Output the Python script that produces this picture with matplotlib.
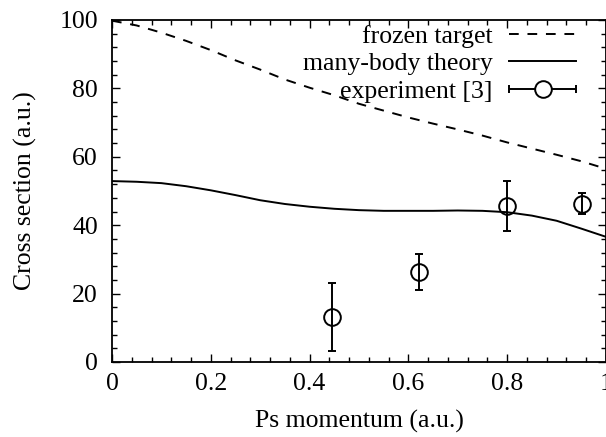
import matplotlib
matplotlib.use("Agg")
import matplotlib.pyplot as plt
import numpy as np
from matplotlib.legend_handler import HandlerErrorbar
from matplotlib.ticker import MultipleLocator

# frozen-target curve (dashed)
frozen_k = [0.0, 0.05, 0.1, 0.15, 0.2, 0.25, 0.3, 0.35, 0.4, 0.45, 0.5,
            0.55, 0.6, 0.65, 0.7, 0.75, 0.8, 0.85, 0.9, 0.95, 1.0]
frozen_sigma = [99.8, 98.4, 96.3, 93.9, 91.2, 88.2, 85.5, 82.6, 80.2, 78.0, 75.5,
                73.5, 71.5, 69.7, 68.0, 66.2, 64.2, 62.4, 60.6, 58.7, 56.5]

# many-body theory curve (solid)
mbt_k = [0.0, 0.05, 0.1, 0.15, 0.2, 0.25, 0.3, 0.35, 0.4, 0.45, 0.5,
         0.55, 0.6, 0.65, 0.7, 0.75, 0.8, 0.85, 0.9, 0.95, 1.0]
mbt_sigma = [52.9, 52.7, 52.3, 51.4, 50.2, 48.8, 47.3, 46.2, 45.4, 44.8, 44.4,
             44.2, 44.2, 44.2, 44.3, 44.2, 43.8, 42.8, 41.3, 39.0, 36.6]

# experiment [3]
exp_k = [0.446, 0.621, 0.80, 0.952]
exp_sigma = [13.2, 26.2, 45.7, 46.2]
exp_lo = [3.3, 21.0, 38.3, 43.2]
exp_hi = [23.1, 31.5, 52.9, 49.5]

plt.rcParams["font.family"] = ["Liberation Serif", "DejaVu Serif"]
plt.rcParams["font.size"] = 18.5

fig = plt.figure(figsize=(6.06, 4.37), dpi=100, facecolor="white")
ax = fig.add_axes([112 / 606, 75 / 437, 494 / 606, 342 / 437])

ax.plot(frozen_k, frozen_sigma, color="black", linewidth=1.4,
        dashes=(5, 4.5), label="frozen target")
ax.plot(mbt_k, mbt_sigma, color="black", linewidth=1.4, label="many-body theory")

yerr = [np.array(exp_sigma) - np.array(exp_lo), np.array(exp_hi) - np.array(exp_sigma)]
ax.errorbar(exp_k, exp_sigma, yerr=yerr, fmt="o", color="black", mfc="none",
            mec="black", ms=12, mew=1.4, elinewidth=1.4, capsize=3, capthick=1.4)

# legend entry drawn horizontally like the original
proxy = ax.errorbar([np.nan], [np.nan], xerr=[1.0], fmt="o", color="black", mfc="white",
                    mec="black", ms=12, mew=1.4, elinewidth=1.4, capsize=3, capthick=1.4,
                    label="experiment [3]")

ax.set_xlim(0, 1)
ax.set_ylim(0, 100)
ax.set_xticks(np.arange(0, 1.01, 0.2))
ax.set_xticklabels(["0", "0.2", "0.4", "0.6", "0.8", "1"])
ax.xaxis.set_minor_locator(MultipleLocator(0.04))
ax.yaxis.set_major_locator(MultipleLocator(20))
ax.yaxis.set_minor_locator(MultipleLocator(4))

ax.tick_params(which="both", direction="in", top=True, right=True, width=1.0, colors="black")
ax.tick_params(which="major", length=6)
ax.tick_params(which="minor", length=3.5)
ax.tick_params(axis="x", pad=8)
ax.tick_params(axis="y", pad=10)
for spine in ax.spines.values():
    spine.set_linewidth(1.3)

ax.set_xlabel("Ps momentum (a.u.)", labelpad=11)
ax.set_ylabel("Cross section (a.u.)", labelpad=16)

ax.legend(loc="upper right", bbox_to_anchor=(0.955, 1.008), frameon=False, markerfirst=False,
          handlelength=2.6, handletextpad=0.65, labelspacing=0.17, borderaxespad=0.0,
          borderpad=0.3, fontsize=18.5,
          handler_map={proxy: HandlerErrorbar(xerr_size=1.3)})

fig.savefig("out.png", dpi=100, facecolor="white")
plt.close(fig)
